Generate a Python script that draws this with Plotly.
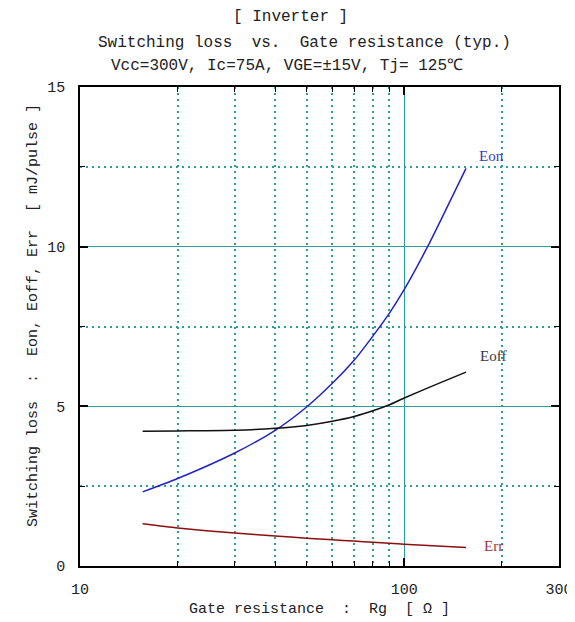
import math
import plotly.graph_objects as go

# ---- data ----
rg_eon = [15.6, 20, 30, 40, 50, 60, 70, 80, 90, 100, 118, 135, 155]
eon = [2.32, 2.74, 3.54, 4.25, 4.98, 5.72, 6.44, 7.2, 7.92, 8.66, 10.0, 11.2, 12.45]

rg_eoff = [15.6, 20, 30, 40, 50, 60, 70, 80, 90, 100, 125, 155]
eoff = [4.22, 4.23, 4.25, 4.31, 4.40, 4.53, 4.68, 4.86, 5.05, 5.26, 5.68, 6.07]

rg_err = [15.6, 20, 30, 40, 50, 60, 70, 80, 90, 100, 155]
err = [1.32, 1.19, 1.03, 0.94, 0.87, 0.82, 0.78, 0.74, 0.71, 0.68, 0.58]

x_major = [10, 100, 300]
x_major_text = ["10", "100", "300"]
x_minor = [20, 30, 40, 50, 60, 70, 80, 90, 200]
y_major = [0, 5, 10, 15]
y_minor = [2.5, 7.5, 12.5]

labels = ["Eon", "Eoff", "Err"]
label_x = [186, 188, 188]
label_y = [12.83, 6.59, 0.64]

FONT = "Liberation Mono"
GRID = "#2a9d9d"

fig = go.Figure()
fig.add_trace(go.Scatter(x=rg_eon, y=eon, mode="lines",
                         line=dict(color="#2323c0", width=1.5, shape="spline", smoothing=0.6), showlegend=False))
fig.add_trace(go.Scatter(x=rg_eoff, y=eoff, mode="lines",
                         line=dict(color="#111111", width=1.5, shape="spline", smoothing=0.6), showlegend=False))
fig.add_trace(go.Scatter(x=rg_err, y=err, mode="lines",
                         line=dict(color="#8b0f0f", width=1.5, shape="spline", smoothing=0.6), showlegend=False))

label_colors = ["#3b3bc4", "#3a3a3a", "#a03838"]
for t, lx, ly, c in zip(labels, label_x, label_y, label_colors):
    fig.add_annotation(x=math.log10(lx), y=ly, xref="x", yref="y", text=t, showarrow=False,
                       font=dict(family="Liberation Serif", size=15, color=c))

axis_common = dict(showline=True, linecolor="black", linewidth=1.5, mirror="ticks",
                   ticks="inside", ticklen=8, tickwidth=1.5, tickcolor="black",
                   gridcolor=GRID, gridwidth=1.2, zeroline=False,
                   tickfont=dict(family=FONT, size=15, color="#222"))

fig.update_xaxes(type="log", range=[1, math.log10(300)], tickmode="array", tickvals=x_major, ticktext=x_major_text,
                 ticklabelstandoff=8,
                 minor=dict(tickmode="array", tickvals=x_minor, ticks="inside", ticklen=5, tickwidth=1.2,
                            tickcolor="black", showgrid=True, gridcolor=GRID, griddash="2px,4px", gridwidth=1.5),
                 **axis_common)
fig.update_yaxes(range=[0, 15], tickmode="array", tickvals=y_major, ticklabelstandoff=10,
                 minor=dict(tickmode="array", tickvals=y_minor, ticks="inside", ticklen=5, tickwidth=1.2,
                            tickcolor="black", showgrid=True, gridcolor=GRID, griddash="2px,4px", gridwidth=1.5),
                 **axis_common)

# page body has an 8px margin: place the figure so the plot area lands at x 80..559, y 87..566
OFF = 8
W, H = 575 - OFF, 622 - OFF
L, R, T, B = 80 - OFF, 16, 87 - OFF, 56
pw, ph = W - L - R, H - T - B


def px(xp):
    return (xp - OFF - L) / pw


def py(yp):
    return (H - B - (yp - OFF)) / ph


titles = ["[ Inverter ]", "Switching loss  vs.  Gate resistance (typ.)", "Vcc=300V, Ic=75A, VGE=±15V, Tj= 125℃"]
title_x = [290, 304, 287]
title_y = [17, 43, 66]
for t, tx, ty in zip(titles, title_x, title_y):
    fig.add_annotation(x=px(tx), y=py(ty), xref="paper", yref="paper", text=t, showarrow=False,
                       xanchor="center", yanchor="middle", font=dict(family=FONT, size=16, color="#222"))

fig.add_annotation(x=px(319), y=py(609), xref="paper", yref="paper", text="Gate resistance  :  Rg  [ Ω ]",
                   showarrow=False, xanchor="center", yanchor="middle", font=dict(family=FONT, size=15, color="#222"))
fig.add_annotation(x=px(33), y=py(316), xref="paper", yref="paper",
                   text="Switching loss  :  Eon, Eoff, Err  [ mJ/pulse ]", textangle=-90,
                   showarrow=False, xanchor="center", yanchor="middle", font=dict(family=FONT, size=15, color="#222"))

fig.update_layout(width=W, height=H, margin=dict(l=L, r=R, t=T, b=B, autoexpand=False),
                  plot_bgcolor="white", paper_bgcolor="white", showlegend=False)

fig.write_html("out.html")
